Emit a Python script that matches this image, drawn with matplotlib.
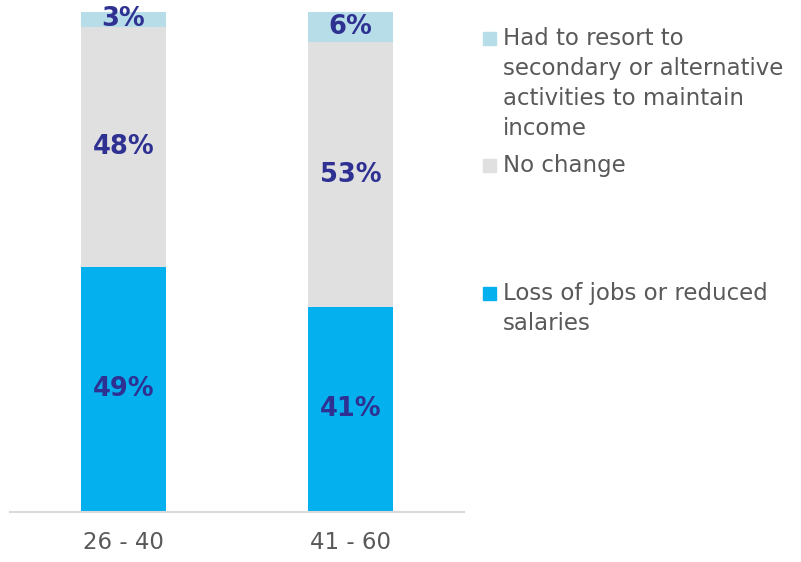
import matplotlib.pyplot as plt
import matplotlib.patches as mpatches

plt.rcParams['font.family'] = ['DejaVu Sans']

groups = ['26 - 40', '41 - 60']
loss = [49, 41]
no_change = [48, 53]
resort = [3, 6]

series_names = [['Had to resort to', 'secondary or alternative', 'activities to maintain', 'income'],
                ['No change'],
                ['Loss of jobs or reduced', 'salaries']]
col_resort = '#B7DEE8'
col_none = '#E0E0E0'
col_loss = '#05B0EE'
label_col = '#2E3192'
text_col = '#595959'

fig = plt.figure(figsize=(8.01, 5.62), dpi=100)
ax = fig.add_axes([10/801, 1 - 512/562, 454/801, 500/562])

x = range(len(groups))
w = 0.375
ax.bar(x, loss, w, color=col_loss)
ax.bar(x, no_change, w, bottom=loss, color=col_none)
bottom2 = [a + b for a, b in zip(loss, no_change)]
ax.bar(x, resort, w, bottom=bottom2, color=col_resort)

for i in x:
    ax.text(i, loss[i] / 2, f'{loss[i]}%', ha='center', va='center',
            fontsize=18.5, fontweight='bold', color=label_col)
    ax.text(i, loss[i] + no_change[i] / 2, f'{no_change[i]}%', ha='center', va='center',
            fontsize=18.5, fontweight='bold', color=label_col)
    ax.text(i, bottom2[i] + resort[i] / 2, f'{resort[i]}%', ha='center', va='center',
            fontsize=18.5, fontweight='bold', color=label_col)

ax.set_xlim(-0.5, 1.5)
ax.set_ylim(0, 100)
ax.set_xticks(list(x))
ax.set_xticklabels(groups, fontsize=16.5, color=text_col)
ax.tick_params(axis='x', length=0, pad=14)
ax.set_yticks([])
for s in ['top', 'right', 'left']:
    ax.spines[s].set_visible(False)
ax.spines['bottom'].set_color('#D9D9D9')
ax.spines['bottom'].set_linewidth(1.5)

# legend, placed by hand (baselines of first lines in pixels from top)
leg_y = [45, 172, 300]
leg_cols = [col_resort, col_none, col_loss]
for lines, c, yy in zip(series_names, leg_cols, leg_y):
    fig.patches.append(mpatches.Rectangle((483/801, 1 - yy/562), 13/801, 13/562,
                                          transform=fig.transFigure, color=c))
    for k, line in enumerate(lines):
        fig.text(503/801, 1 - (yy + 30 * k)/562, line, fontsize=16.5, color=text_col,
                 va='baseline', ha='left')

fig.savefig('out.png', dpi=100)
